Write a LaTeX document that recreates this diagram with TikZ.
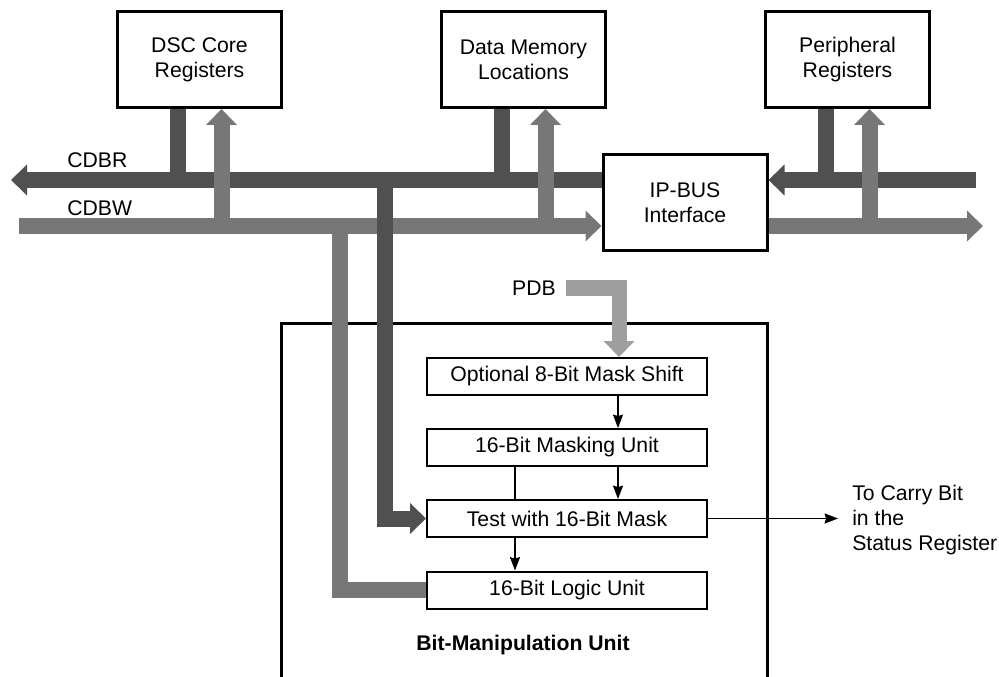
\documentclass[tikz,border=0pt]{standalone}
\usepackage{fontspec}
\setmainfont{Liberation Sans}
\usetikzlibrary{arrows.meta}
\definecolor{busdark}{HTML}{505050}
\definecolor{busmid}{HTML}{777777}
\definecolor{buslight}{HTML}{9E9E9E}

\begin{document}
\begin{tikzpicture}[x=0.75pt,y=-0.75pt]
\tikzset{
  unitbox/.style={draw=black,line width=2.25pt,minimum width=123pt,minimum height=72pt,align=center,inner sep=2pt,font=\fontsize{15.9}{18.8}\selectfont},
  stagebox/.style={draw=black,line width=1.5pt,minimum width=210pt,minimum height=27.75pt,inner sep=1pt,font=\fontsize{15.9}{18.8}\selectfont},
  lbl/.style={inner sep=0pt,font=\fontsize{15.9}{19}\selectfont},
  bus/.style={line width=12pt,line join=miter},
  darkbus/.style={bus,draw=busdark},
  midbus/.style={bus,draw=busmid},
  pdbbus/.style={bus,line width=11.25pt,draw=buslight},
  bushead/.style={-{Triangle[length=12pt,width=22.5pt]}},
  flow/.style={draw=black,line width=1.3pt,-{Stealth[length=10pt,width=7.5pt,inset=1pt]}},
  plain/.style={draw=black,line width=1.3pt}
}
\useasboundingbox (0,0) rectangle (999,677);
% units on the bus
\node[unitbox] (dsc) at (199.5,59.5) {DSC Core\\Registers};
\node[unitbox] (dmem) at (523.5,59.5) {Data Memory\\Locations};
\node[unitbox] (periph) at (847.5,59.5) {Peripheral\\Registers};
\node[unitbox] (ipbus) at (685,202.5) {IP-BUS\\Interface};
% bit-manipulation unit
\node[stagebox] (opt) at (567,376.5) {Optional 8-Bit Mask Shift};
\node[stagebox] (mask) at (567,447.5) {16-Bit Masking Unit};
\node[stagebox] (test) at (567,518.5) {Test with 16-Bit Mask};
\node[stagebox] (logic) at (567,590) {16-Bit Logic Unit};
\node[lbl,font=\fontsize{15.9}{19}\selectfont\bfseries] (bmulabel) at (523,645) {Bit-Manipulation Unit};
\draw[line width=2.25pt] (281,684) -- (281,323) -- (767,323) -- (767,684);
% labels
\node[lbl,anchor=west] (cdbr) at (67,160) {CDBR};
\node[lbl,anchor=west] (cdbw) at (67,208) {CDBW};
\node[lbl,anchor=east] (pdb) at (556,288) {PDB};
\node[lbl,anchor=west,align=left,inner xsep=10.5pt] (carry) at (838,520) {To Carry Bit\\in the\\Status Register};
\coordinate (cdbrL) at (11,180);
\coordinate (cdbrR) at (976,180);
\coordinate (cdbwL) at (19,226);
\coordinate (cdbwR) at (983,226);
\coordinate (rtap) at (385,180);
\coordinate (wtap) at (340,226);
% buses
\draw[midbus,bushead] (cdbwL) -- (ipbus.west |- cdbwL);
\draw[midbus,bushead] (ipbus.east |- cdbwL) -- (cdbwR);
\draw[darkbus,bushead] (ipbus.west |- cdbrL) -- (cdbrL);
\draw[darkbus,bushead] (cdbrR) -- (ipbus.east |- cdbrR);
\foreach \unit in {dsc,dmem,periph}{
  \coordinate (\unit-rd) at ([xshift=-16.5pt]\unit.south);
  \draw[darkbus] (\unit-rd) -- (\unit-rd |- cdbrL);
}
\draw[darkbus,bushead] (rtap) |- (test.west);
\draw[midbus] (wtap) |- (logic.west);
\foreach \unit in {dsc,dmem,periph}{
  \coordinate (\unit-wr) at ([xshift=16.5pt]\unit.south);
  \draw[midbus,bushead] (\unit-wr |- cdbwL) -- (\unit-wr);
}
\draw[pdbbus,bushead] ([xshift=7.5pt]pdb.east) -| ([xshift=39pt]opt.north);
% inner flow
\draw[flow] ([xshift=38.25pt]opt.south) -- ([xshift=38.25pt]mask.north);
\draw[flow] ([xshift=38.25pt]mask.south) -- ([xshift=38.25pt]test.north);
\draw[plain] ([xshift=-39pt]mask.south) -- ([xshift=-39pt]test.north);
\draw[flow] ([xshift=-39pt]test.south) -- ([xshift=-39pt]logic.north);
\draw[flow] (test.east) -- (carry.west |- test.east);
\end{tikzpicture}
\end{document}
